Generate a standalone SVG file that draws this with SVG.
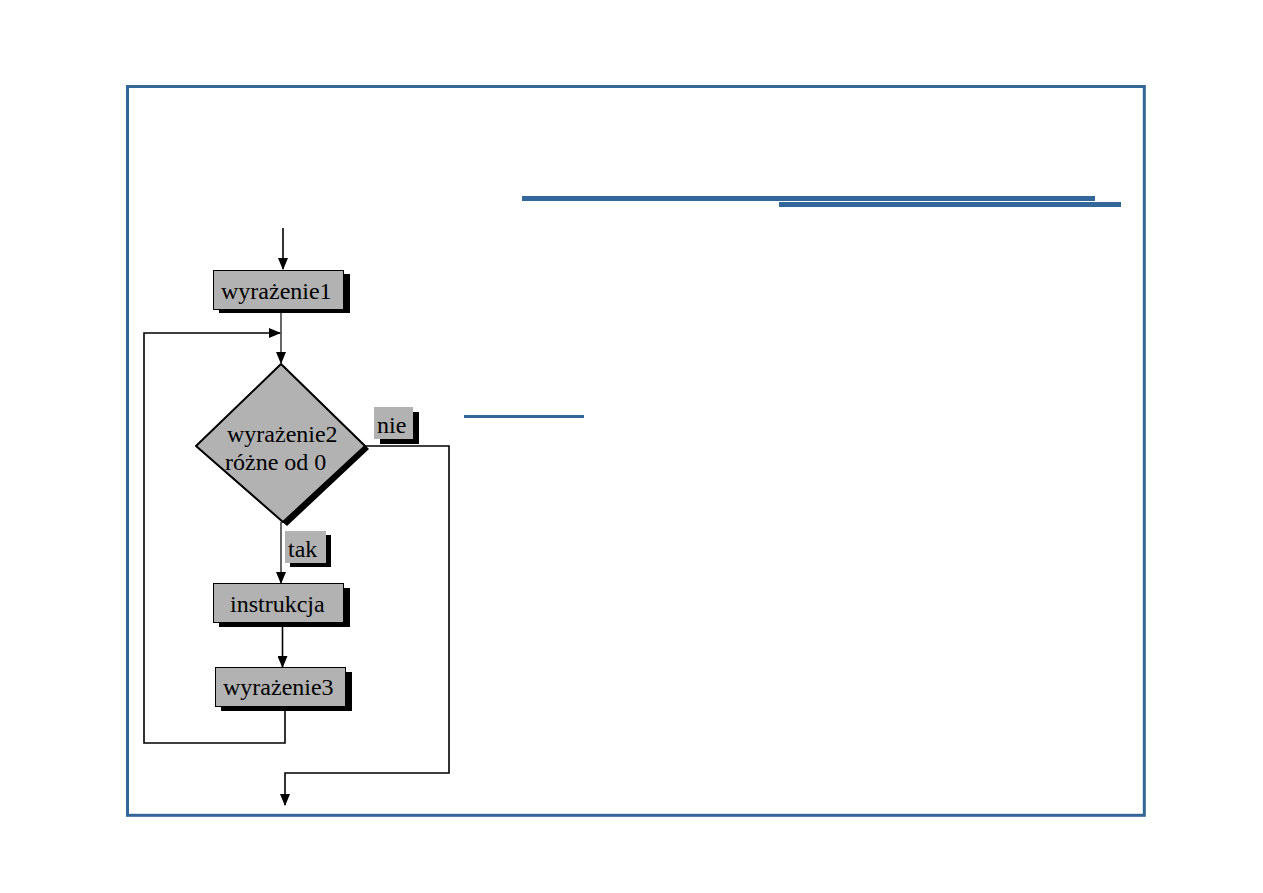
<svg xmlns="http://www.w3.org/2000/svg" width="1263" height="893" viewBox="0 0 1263 893">
<style>
.blue{fill:#336699}
.box{fill:#b2b2b2;stroke:#000;stroke-width:1}
.lbl{fill:#b2b2b2}
.sh{fill:#000}
.t{font-family:"Liberation Serif","Times New Roman",serif;font-size:24px;fill:#000}
.c{fill:none;stroke:#000;stroke-width:1.6}
</style>
<defs>
<marker id="ah" markerWidth="12" markerHeight="10" refX="11" refY="5" orient="auto" markerUnits="userSpaceOnUse" viewBox="0 0 12 10">
<path d="M0,0 L12,5 L0,10 Z" fill="#000"/>
</marker>
</defs>
<rect x="0" y="0" width="1263" height="893" fill="#fff"/>
<rect id="frame" x="127.5" y="86.5" width="1016.8" height="728.8" fill="none" stroke="#336699" stroke-width="3"/>
<g id="bars">
<rect class="blue" x="522" y="196" width="573" height="5"/>
<rect class="blue" x="779" y="202" width="342" height="5"/>
<rect class="blue" x="464" y="415" width="120" height="3"/>
</g>
<g id="connectors">
<line class="c" x1="283" y1="228" x2="283" y2="269" marker-end="url(#ah)"/>
<line class="c" x1="281" y1="309" x2="281" y2="363" marker-end="url(#ah)" style="stroke-width:1.2"/>
<line class="c" x1="281" y1="522" x2="281" y2="583" marker-end="url(#ah)" style="stroke-width:1.2"/>
<line class="c" x1="282.5" y1="622" x2="282.5" y2="667" marker-end="url(#ah)"/>
<polyline class="c" points="285,706 285,743 144,743 144,333 280,333" marker-end="url(#ah)"/>
<polyline class="c" points="365,446 449,446 449,773 285,773 285,805" marker-end="url(#ah)"/>
</g>
<g id="node-wyrazenie1">
<rect class="sh" x="219" y="274" width="131" height="39"/>
<rect class="box" x="213.5" y="270.5" width="130" height="39"/>
<text class="t" x="221" y="299">wyrażenie1</text>
</g>
<g id="node-wyrazenie2">
<polygon class="sh" points="284,366 369,449 287,526 199,449"/>
<polygon points="281,364 365,446 283,522 196,446" fill="#b2b2b2" stroke="#000" stroke-width="2" stroke-linejoin="round"/>
<text class="t" x="227" y="442">wyrażenie2</text>
<text class="t" x="225" y="470">różne od 0</text>
</g>
<g id="label-nie">
<rect class="sh" x="380" y="412" width="39" height="32"/>
<rect class="lbl" x="374" y="407" width="39" height="32"/>
<text class="t" x="377" y="433">nie</text>
</g>
<g id="label-tak">
<rect class="sh" x="290" y="535" width="41" height="32"/>
<rect class="lbl" x="285" y="531" width="41" height="32"/>
<text class="t" x="288" y="557">tak</text>
</g>
<g id="node-instrukcja">
<rect class="sh" x="219" y="588" width="131" height="39"/>
<rect class="box" x="213.5" y="583.5" width="130" height="39"/>
<text class="t" x="230" y="612">instrukcja</text>
</g>
<g id="node-wyrazenie3">
<rect class="sh" x="221" y="672" width="131" height="39"/>
<rect class="box" x="215.5" y="667.5" width="130" height="39"/>
<text class="t" x="223" y="695">wyrażenie3</text>
</g>
</svg>
